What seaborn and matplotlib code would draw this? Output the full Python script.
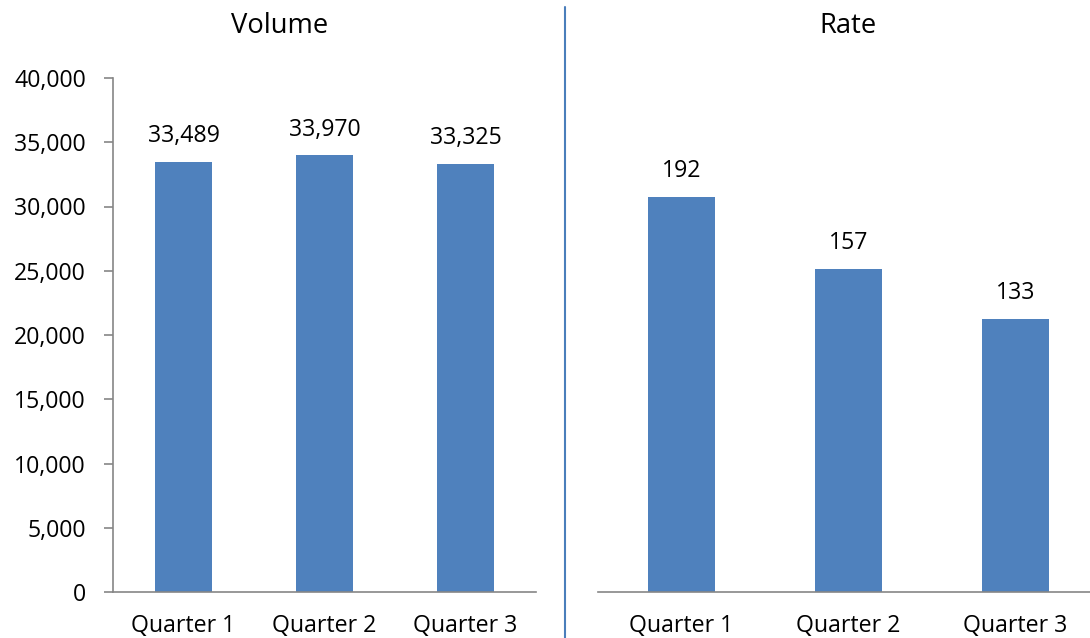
import matplotlib
matplotlib.use("Agg")
import matplotlib.pyplot as plt
from matplotlib.lines import Line2D
import seaborn as sns
import pandas as pd

quarters = ["Quarter 1", "Quarter 2", "Quarter 3"]
volume = [33489, 33970, 33325]
rate = [192, 157, 133]
volume_ticks = [0, 5000, 10000, 15000, 20000, 25000, 30000, 35000, 40000]

sns.set_theme(style="white")
plt.rcParams["font.family"] = ["Open Sans", "DejaVu Sans"]

BAR = "#4f81bd"
AXIS = "#868686"
FS = 16.7

fig = plt.figure(figsize=(10.9, 6.38), dpi=100)
ax_v = fig.add_axes([113 / 1090, 46 / 638, 423 / 1090, 514 / 638])
ax_r = fig.add_axes([598 / 1090, 46 / 638, 501 / 1090, 514 / 638])

df_v = pd.DataFrame({"quarter": quarters, "value": volume})
df_r = pd.DataFrame({"quarter": quarters, "value": rate})

sns.barplot(data=df_v, x="quarter", y="value", color=BAR, width=0.4,
            saturation=1, ax=ax_v)
sns.barplot(data=df_r, x="quarter", y="value", color=BAR, width=0.4,
            saturation=1, ax=ax_r)

# Volume panel
ax_v.set_ylim(0, 40000)
ax_v.set_yticks(volume_ticks)
ax_v.set_yticklabels([f"{t:,}" for t in volume_ticks], fontsize=FS)
ax_v.bar_label(ax_v.containers[0], labels=[f"{v:,}" for v in volume],
               padding=10, fontsize=FS, color="#000000")

# Rate panel
ax_r.set_ylim(0, 250)
ax_r.set_yticks([])
ax_r.bar_label(ax_r.containers[0], labels=[f"{v}" for v in rate],
               padding=10, fontsize=FS, color="#000000")

for ax in (ax_v, ax_r):
    ax.set_xlim(-0.5, 2.5)
    ax.set_xlabel("")
    ax.set_ylabel("")
    ax.set_facecolor("white")
    for side in ("top", "right"):
        ax.spines[side].set_visible(False)
    ax.spines["bottom"].set_color(AXIS)
    ax.spines["bottom"].set_linewidth(1.2)
    ax.tick_params(axis="x", length=0, pad=16, labelsize=FS, colors="#000000")
    ax.set_xticks(range(len(quarters)))
    ax.set_xticklabels(quarters, fontsize=FS)
    for p in ax.patches:
        p.set_edgecolor("none")

ax_v.spines["left"].set_color(AXIS)
ax_v.spines["left"].set_linewidth(1.2)
ax_v.tick_params(axis="y", left=True, length=6.5, width=1.2, color=AXIS,
                 pad=13, labelsize=FS, labelcolor="#000000")
ax_r.spines["left"].set_visible(False)

fig.text(280 / 1090, 1 - 26 / 638, "Volume", ha="center", va="center",
         fontsize=19.7, color="#000000")
fig.text(848 / 1090, 1 - 26 / 638, "Rate", ha="center", va="center",
         fontsize=19.7, color="#000000")

# divider between the two panels
fig.add_artist(Line2D([565 / 1090, 565 / 1090], [0, 1 - 7 / 638],
                      transform=fig.transFigure, color="#4a7ebb", lw=1.5))

fig.savefig("out.png", dpi=100, facecolor="white")
